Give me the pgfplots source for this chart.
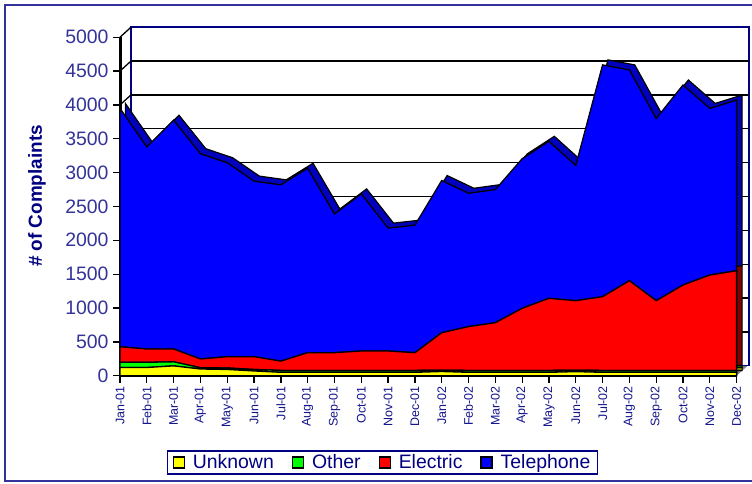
\documentclass[border=0pt]{standalone}
\usepackage{fontspec}
\setmainfont{Liberation Sans}
\usepackage{pgfplots}
\pgfplotsset{compat=1.18}
\usepackage{pgfplotstable}

\definecolor{frame}{RGB}{51,51,153}
\definecolor{navy}{RGB}{0,0,128}
\definecolor{ticktxt}{RGB}{51,51,153}
\definecolor{xtxt}{RGB}{20,20,140}
\definecolor{telfront}{RGB}{0,0,255}
\definecolor{telback}{RGB}{0,0,190}
\definecolor{elfront}{RGB}{255,0,0}
\definecolor{elback}{RGB}{128,0,0}
\definecolor{othfront}{RGB}{0,255,0}
\definecolor{othback}{RGB}{0,128,0}
\definecolor{unkfront}{RGB}{255,255,0}
\definecolor{unkback}{RGB}{128,128,0}
\definecolor{floorgray}{RGB}{128,128,128}

\pgfplotstableread{
x U O E T
0 120 78 230 3520
1 121 77 196 2985
2 145 60 189 3380
3 99 19 129 3032
4 92 22 167 2865
5 70 22 189 2593
6 50 28 137 2604
7 50 28 262 2724
8 50 28 262 2048
9 50 28 287 2320
10 50 28 287 1815
11 50 28 262 1884
12 62 18 555 2248
13 50 28 647 1970
14 50 28 705 1966
15 50 28 917 2210
16 50 28 1065 2319
17 60 20 1028 1997
18 50 28 1089 3424
19 50 28 1325 3114
20 50 28 1030 2691
21 50 28 1262 2954
22 50 28 1409 2461
23 50 28 1473 2520
}\data

\pgfplotsset{base/.style={scale only axis, width=628.7bp, height=348.5bp,
  at={(120bp,108.3bp)}, anchor=south west, clip=false}}

\begin{document}
\begin{tikzpicture}
\useasboundingbox (0,0) rectangle (752bp,484bp);
\fill[white] (0,0) rectangle (752bp,484bp);
\draw[frame, line width=2.5bp] (5bp,3bp) rectangle (775bp,479bp);

% walls and grid
\begin{axis}[base, xmin=0, xmax=23.45, ymin=0, ymax=5148, hide axis]
\fill[floorgray] (axis cs:0,0) -- (axis cs:23,0) -- ([xshift=11bp,yshift=10bp]axis cs:23,0) -- ([xshift=11bp,yshift=10bp]axis cs:0,0) -- cycle;
\draw[navy, line width=1.6bp, fill=white] ([xshift=11bp,yshift=10bp]axis cs:0,0) rectangle ([yshift=10bp]axis cs:23.45,5000);
\pgfplotsinvokeforeach{500,1000,1500,2000,2500,3000,3500,4000,4500}{
  \draw[black, line width=1.3bp] ([xshift=11bp,yshift=10bp]axis cs:0,#1) -- ([yshift=10bp]axis cs:23.45,#1);
}
\pgfplotsinvokeforeach{0,500,1000,1500,2000,2500,3000,3500,4000,4500,5000}{
  \draw[black, line width=1.3bp] (axis cs:0,#1) -- ++(11bp,10bp);
}
\end{axis}

% back copy of series (depth)
\begin{axis}[base, xmin=-0.2, xmax=23.25, ymin=-74, ymax=5074, hide axis, stack plots=y]
\addplot[fill=unkback, draw=black, line width=1bp] table[x=x,y=U]{\data} \closedcycle;
\addplot[fill=othback, draw=black, line width=1bp] table[x=x,y=O]{\data} \closedcycle;
\addplot[fill=elback, draw=black, line width=1bp] table[x=x,y=E]{\data} \closedcycle;
\addplot[fill=telback, draw=black, line width=1.2bp] table[x=x,y=T]{\data} \closedcycle;
\end{axis}

% front series
\begin{axis}[base, xmin=0, xmax=23.45, ymin=0, ymax=5148, stack plots=y,
  axis x line*=bottom, axis y line*=left, axis line style={draw=none},
  xtick={0,...,23},
  xticklabels={Jan-01,Feb-01,Mar-01,Apr-01,May-01,Jun-01,Jul-01,Aug-01,Sep-01,Oct-01,Nov-01,Dec-01,Jan-02,Feb-02,Mar-02,Apr-02,May-02,Jun-02,Jul-02,Aug-02,Sep-02,Oct-02,Nov-02,Dec-02},
  ytick={0,500,...,5000},
  tick align=outside, major tick length=7bp,
  tick style={black, line width=1.3bp},
  /pgf/number format/1000 sep={},
  /pgf/number format/assume math mode=true,
  yticklabel style={font=\fontsize{19.5}{22}\selectfont, text=ticktxt, xshift=-1bp},
  xticklabel style={rotate=90, anchor=east, font=\fontsize{12.5}{14}\selectfont, text=xtxt},
  legend columns=4,
  legend cell align=left,
  legend image code/.code={\draw[#1, draw=black, line width=1.2bp] (0bp,-5.5bp) rectangle (11bp,5.5bp);},
  legend style={at={(0.4175,-0.249)}, anchor=center, draw=navy, line width=1.6bp, fill=white,
    font=\fontsize{19.5}{22}\selectfont, text=navy, inner xsep=5bp, inner ysep=1.5bp,
    /tikz/every odd column/.append style={column sep=6bp},
    /tikz/every even column/.append style={column sep=16bp}},
]
\addplot[fill=unkfront, draw=black, line width=1.3bp] table[x=x,y=U]{\data} \closedcycle;
\addlegendentry{Unknown}
\addplot[fill=othfront, draw=black, line width=1.3bp] table[x=x,y=O]{\data} \closedcycle;
\addlegendentry{Other}
\addplot[fill=elfront, draw=black, line width=1.3bp] table[x=x,y=E]{\data} \closedcycle;
\addlegendentry{Electric}
\addplot[fill=telfront, draw=black, line width=1.3bp] table[x=x,y=T]{\data} \closedcycle;
\addlegendentry{Telephone}
\fill[floorgray] (axis cs:0,0) rectangle (axis cs:23,45);
\draw[black, line width=3bp] (axis cs:0,5000) -- (axis cs:0,0) -- (axis cs:23,0);
\end{axis}

\node[rotate=90, font=\bfseries\fontsize{19}{22}\selectfont, text=navy] at (37bp,288bp) {\# of Complaints};
\end{tikzpicture}
\end{document}
